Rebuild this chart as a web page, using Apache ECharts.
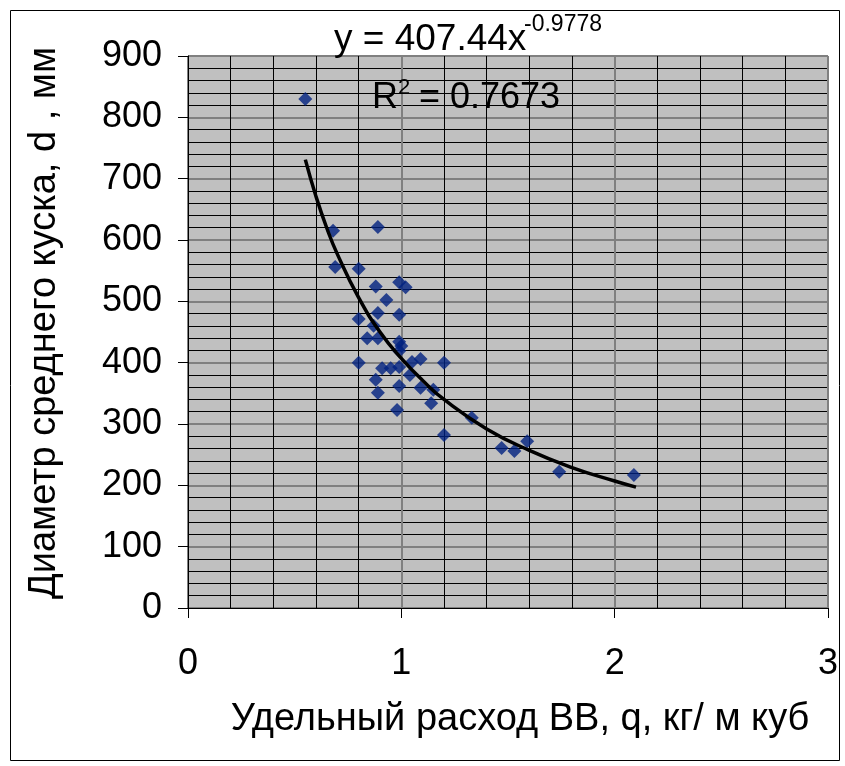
<!DOCTYPE html>
<html>
<head>
<meta charset="utf-8">
<script src="https://cdn.jsdelivr.net/npm/echarts@6/dist/echarts.min.js"></script>
<style>html,body{margin:0;padding:0;background:#fff;}#c{width:845px;height:766px;}</style>
</head>
<body>
<div id="c"></div>
<script>
// Measured points: specific explosive consumption q (kg/m3) vs mean fragment diameter d (mm)
var qValues = [0.55,0.68,0.69,0.80,0.89,0.88,0.99,1.02,0.93,0.89,0.99,0.80,0.87,0.84,0.89,0.99,1.00,0.99,0.80,0.91,0.95,0.99,1.05,1.09,1.20,1.04,0.88,1.09,0.99,0.89,1.15,1.14,0.98,1.20,1.33,1.47,1.53,1.59,1.74,2.09];
var dValues = [830,615,556,553,621,524,531,523,502,481,478,471,460,440,440,434,427,419,400,391,391,393,401,406,400,380,372,359,362,351,356,334,323,282,310,261,256,272,222,217];
// Power trendline
var trendQ = [0.55,0.60,0.65,0.70,0.80,0.90,1.00,1.10,1.20,1.40,1.60,1.80,2.00,2.10];
var trendD = [731,671,620,577,506,450,407,371,340,292,257,229,207,197];
// Axis ticks
var xTicks = [0,1,2,3];
var yTicks = [0,100,200,300,400,500,600,700,800,900];
var xTitle = 'Удельный расход ВВ, q, кг/ м куб';
var yTitle = 'Диаметр среднего куска, d , мм';
var eqMain = 'y = 407.44x';
var eqExp = '-0.9778';
var r2Label = '0.7673';

var chart = echarts.init(document.getElementById('c'), null, {renderer:'canvas'});
var pts = qValues.map(function(q,i){return [q,dValues[i]];});
var trend = trendQ.map(function(q,i){return [q,trendD[i]];});
var FONT = '"Liberation Sans", Arial, sans-serif';

chart.setOption({
  animation:false,
  backgroundColor:'#ffffff',
  grid:{left:188,top:56,width:640,height:552,show:true,backgroundColor:'#C0C0C0',borderColor:'#808080',borderWidth:1},
  xAxis:{
    type:'value',min:xTicks[0],max:xTicks[xTicks.length-1],interval:1,
    name:xTitle,nameLocation:'middle',nameGap:93,
    nameTextStyle:{fontFamily:FONT,fontSize:38,color:'#000',padding:[0,0,0,24]},
    axisLine:{show:true,onZero:false,lineStyle:{color:'#000',width:1}},
    axisTick:{show:true,length:10,lineStyle:{color:'#000'}},
    axisLabel:{fontFamily:FONT,fontSize:36,color:'#000',margin:38},
    splitLine:{show:true,lineStyle:{color:'#808080',width:2}},
    minorTick:{show:false,splitNumber:5},
    minorSplitLine:{show:true,lineStyle:{color:'#000',width:1}}
  },
  yAxis:{
    type:'value',min:yTicks[0],max:yTicks[yTicks.length-1],interval:100,
    name:yTitle,nameLocation:'middle',nameGap:124,nameRotate:90,
    nameTextStyle:{fontFamily:FONT,fontSize:38,color:'#000',padding:[0,0,0,18]},
    axisLine:{show:true,onZero:false,lineStyle:{color:'#000',width:1}},
    axisTick:{show:true,length:10,lineStyle:{color:'#000'}},
    axisLabel:{fontFamily:FONT,fontSize:36,color:'#000',margin:26},
    splitLine:{show:true,lineStyle:{color:'#808080',width:2}},
    minorTick:{show:false,splitNumber:5},
    minorSplitLine:{show:true,lineStyle:{color:'#000',width:1}}
  },
  series:[
    {type:'scatter',data:pts,symbol:'diamond',symbolSize:14,itemStyle:{color:'#002080'},z:3},
    {type:'line',data:trend,smooth:true,symbol:'none',lineStyle:{color:'#000',width:3.5},z:4}
  ],
  graphic:[
    {type:'rect',left:8,top:8,shape:{width:829,height:750},style:{fill:'none',stroke:'#000',lineWidth:1},silent:true,z:-1},
    {type:'text',x:334,y:40,style:{text:eqMain,font:'37px '+FONT,fill:'#000',verticalAlign:'middle'},z:10},
    {type:'text',x:524,y:25,style:{text:eqExp,font:'23px '+FONT,fill:'#000',verticalAlign:'middle'},z:10},
    {type:'text',x:372,y:98,style:{text:'R',font:'36px '+FONT,fill:'#000',verticalAlign:'middle'},z:10},
    {type:'text',x:398,y:88,style:{text:'2',font:'22px '+FONT,fill:'#000',verticalAlign:'middle'},z:10},
    {type:'text',x:419,y:98,style:{text:'= '+r2Label,font:'36px '+FONT,fill:'#000',verticalAlign:'middle'},z:10}
  ]
});
</script>
</body>
</html>
